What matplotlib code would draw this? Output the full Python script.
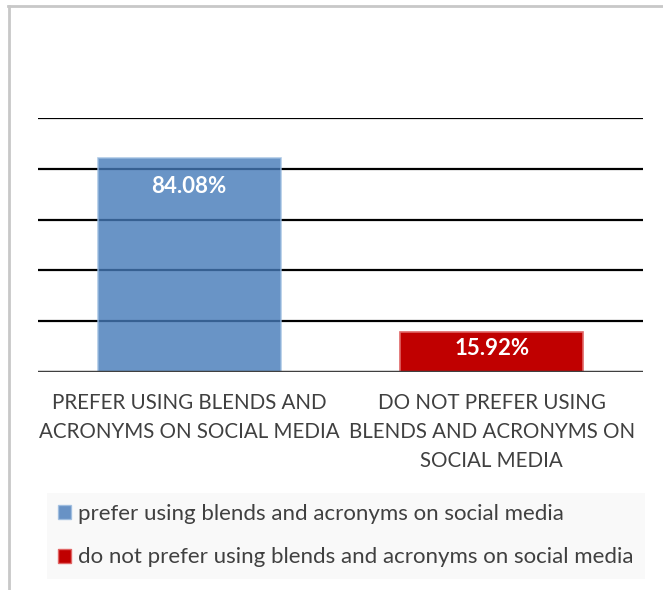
import numpy as np
import matplotlib
matplotlib.use("Agg")
import matplotlib.pyplot as plt
from matplotlib.lines import Line2D

plt.rcParams["font.family"] = ["Lato", "DejaVu Sans"]

# ── Data ─────────────────────────────────────────────
categories = ["PREFER USING BLENDS AND\nACRONYMS ON SOCIAL MEDIA",
              "DO NOT PREFER USING\nBLENDS AND ACRONYMS ON\nSOCIAL MEDIA"]
values = [84.08, 15.92]
legend_labels = ["prefer using blends and acronyms on social media",
                 "do not prefer using blends and acronyms on social media"]
grid_ticks = [0, 20, 40, 60, 80, 100]

BLUE = "#4479B8"
RED = "#C00000"
TEXT = "#404040"

W, H = 663, 590
fig = plt.figure(figsize=(W / 100, H / 100), dpi=100)

# outer frame (only top and left edges are visible)
fig.add_artist(Line2D([8 / W, 1], [1 - 6 / H, 1 - 6 / H], color="#c8c8c8", lw=2,
                      transform=fig.transFigure))
fig.add_artist(Line2D([8.5 / W, 8.5 / W], [0, 1 - 6 / H], color="#c8c8c8", lw=2,
                      transform=fig.transFigure))

ax = fig.add_axes([38 / W, (H - 372) / H, (643 - 38) / W, (372 - 118) / H])
ax.set_xlim(-0.5, 1.5)
ax.set_ylim(0, 100)
ax.axis("off")

for t in grid_ticks[1:]:
    ax.axhline(t, color="black", lw=1.6, zorder=1)
ax.axhline(0, color="#404040", lw=2.5, zorder=4)

x = np.arange(len(values))
bars = ax.bar(x, values, width=0.605, color=[BLUE, RED], zorder=2)
bars[0].set_alpha(0.8)
bars[0].set_edgecolor("#9dbde0")
bars[1].set_edgecolor("#e06666")
for b in bars:
    b.set_linewidth(1.2)

offsets = [-18, -6]
for b, v, off in zip(bars, values, offsets):
    ax.annotate(f"{v:.2f}%", (b.get_x() + b.get_width() / 2, v),
                xytext=(0, off), textcoords="offset pixels",
                ha="center", va="top", color="white", fontsize=16,
                fontweight="bold", zorder=5)

for xi, lab in zip(x, categories):
    ax.annotate(lab, (xi, 0), xytext=(0, -21), textcoords="offset pixels",
                ha="center", va="top", color=TEXT, fontsize=14.8,
                linespacing=1.55, annotation_clip=False)

handles = [plt.Rectangle((0, 0), 1, 1, facecolor=BLUE, alpha=0.8, edgecolor="#9dbde0"),
           plt.Rectangle((0, 0), 1, 1, facecolor=RED, edgecolor="#e06666")]
leg = fig.legend(handles, legend_labels, loc="upper left",
                 bbox_to_anchor=(47 / W, 1 - 493 / H), fontsize=16,
                 frameon=True, fancybox=False, handlelength=0.6, handleheight=0.6,
                 handletextpad=0.3, labelspacing=1.05, borderaxespad=0,
                 borderpad=0.5)
leg.get_frame().set_facecolor("#f8f8f8")
leg.get_frame().set_edgecolor("none")
for t in leg.get_texts():
    t.set_color(TEXT)

fig.savefig("out.png", dpi=100)
